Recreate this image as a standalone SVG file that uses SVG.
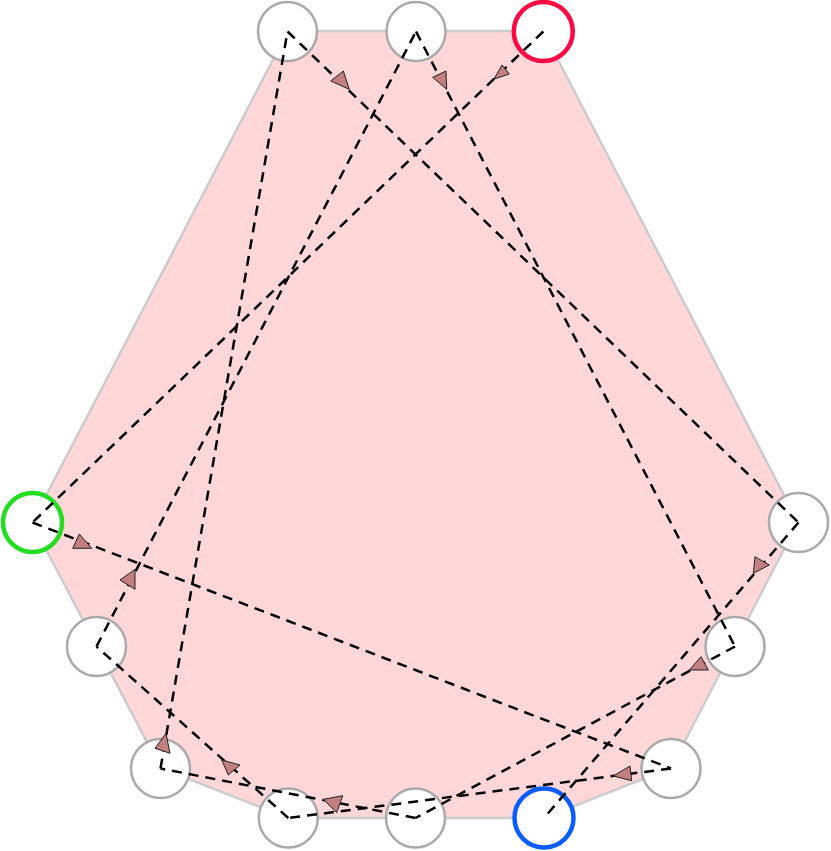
<svg xmlns="http://www.w3.org/2000/svg" width="831" height="851" viewBox="0 0 831 851">
<style>
.hull{fill:#ffd7d9;stroke:#cccccc;stroke-width:2.5;stroke-linejoin:miter}
.node{fill:#ffffff;stroke:#aaaaaa;stroke-width:2.5}
.start{stroke:#ff0844;stroke-width:4.5}
.mid{stroke:#22dd22;stroke-width:4.5}
.end{stroke:#0a5cff;stroke-width:4.5}
.edge{fill:none;stroke:#000000;stroke-width:2.5;stroke-dasharray:10 7}
.arrow{fill:#c27f7f;stroke:#222222;stroke-width:1;stroke-linejoin:miter}
</style>
<rect width="831" height="851" fill="#ffffff"/>
<polygon class="hull" points="288,31 543,31 798,522 671,768 544,818 288,818 160.5,768 32,522.5"/>
<g id="nodes">
<g id="node-A"><circle class="node" cx="287.5" cy="31.5" r="29.5"/></g>
<g id="node-B"><circle class="node" cx="416" cy="31.5" r="29.5"/></g>
<g id="node-C"><circle class="node start" cx="543.3" cy="31.5" r="29.5"/></g>
<g id="node-D"><circle class="node mid" cx="32.5" cy="522.5" r="29.5"/></g>
<g id="node-E"><circle class="node" cx="798.5" cy="522.5" r="29.5"/></g>
<g id="node-F"><circle class="node" cx="96.5" cy="646.5" r="29.5"/></g>
<g id="node-G"><circle class="node" cx="735" cy="646.5" r="29.5"/></g>
<g id="node-H"><circle class="node" cx="160.5" cy="768.5" r="29.5"/></g>
<g id="node-I"><circle class="node" cx="671" cy="768.5" r="29.5"/></g>
<g id="node-J"><circle class="node" cx="288.3" cy="818" r="29.5"/></g>
<g id="node-K"><circle class="node" cx="415.5" cy="818" r="29.5"/></g>
<g id="node-L"><circle class="node end" cx="544" cy="818" r="29.5"/></g>
</g>
<g id="edges">
<line class="edge" x1="543.3" y1="31.5" x2="32.5" y2="522.5"/>
<line class="edge" x1="32.5" y1="522.5" x2="671" y2="768.5"/>
<line class="edge" x1="671" y1="768.5" x2="288.3" y2="818"/>
<line class="edge" x1="288.3" y1="818" x2="96.5" y2="646.5"/>
<line class="edge" x1="96.5" y1="646.5" x2="416" y2="31.5"/>
<line class="edge" x1="416" y1="31.5" x2="735" y2="646.5"/>
<line class="edge" x1="735" y1="646.5" x2="415.5" y2="818"/>
<line class="edge" x1="415.5" y1="818" x2="160.5" y2="768.5"/>
<line class="edge" x1="160.5" y1="768.5" x2="287.5" y2="31.5"/>
<line class="edge" x1="287.5" y1="31.5" x2="798.5" y2="522.5"/>
<line class="edge" x1="798.5" y1="522.5" x2="544" y2="818"/>
<polygon class="arrow" points="494,79 502,65 509.3,74"/>
<polygon class="arrow" points="72.7,548.3 79.3,534 91.7,548.3"/>
<polygon class="arrow" points="613.3,776 630,766 631.7,780.7"/>
<polygon class="arrow" points="221.7,760 240,765 228.3,775"/>
<polygon class="arrow" points="120,580 135,569.3 135,589.3"/>
<polygon class="arrow" points="432.7,77.3 446,71 446.7,89.3"/>
<polygon class="arrow" points="689.3,670 701,656.7 708.3,670"/>
<polygon class="arrow" points="323.3,799.3 342.7,795.7 336.7,812.7"/>
<polygon class="arrow" points="166,733.3 155,748.3 170,753.3"/>
<polygon class="arrow" points="330.7,81 343.3,71 349.3,89.3"/>
<polygon class="arrow" points="753.3,573.3 755,556.7 769.3,565"/>
</g>
</svg>
